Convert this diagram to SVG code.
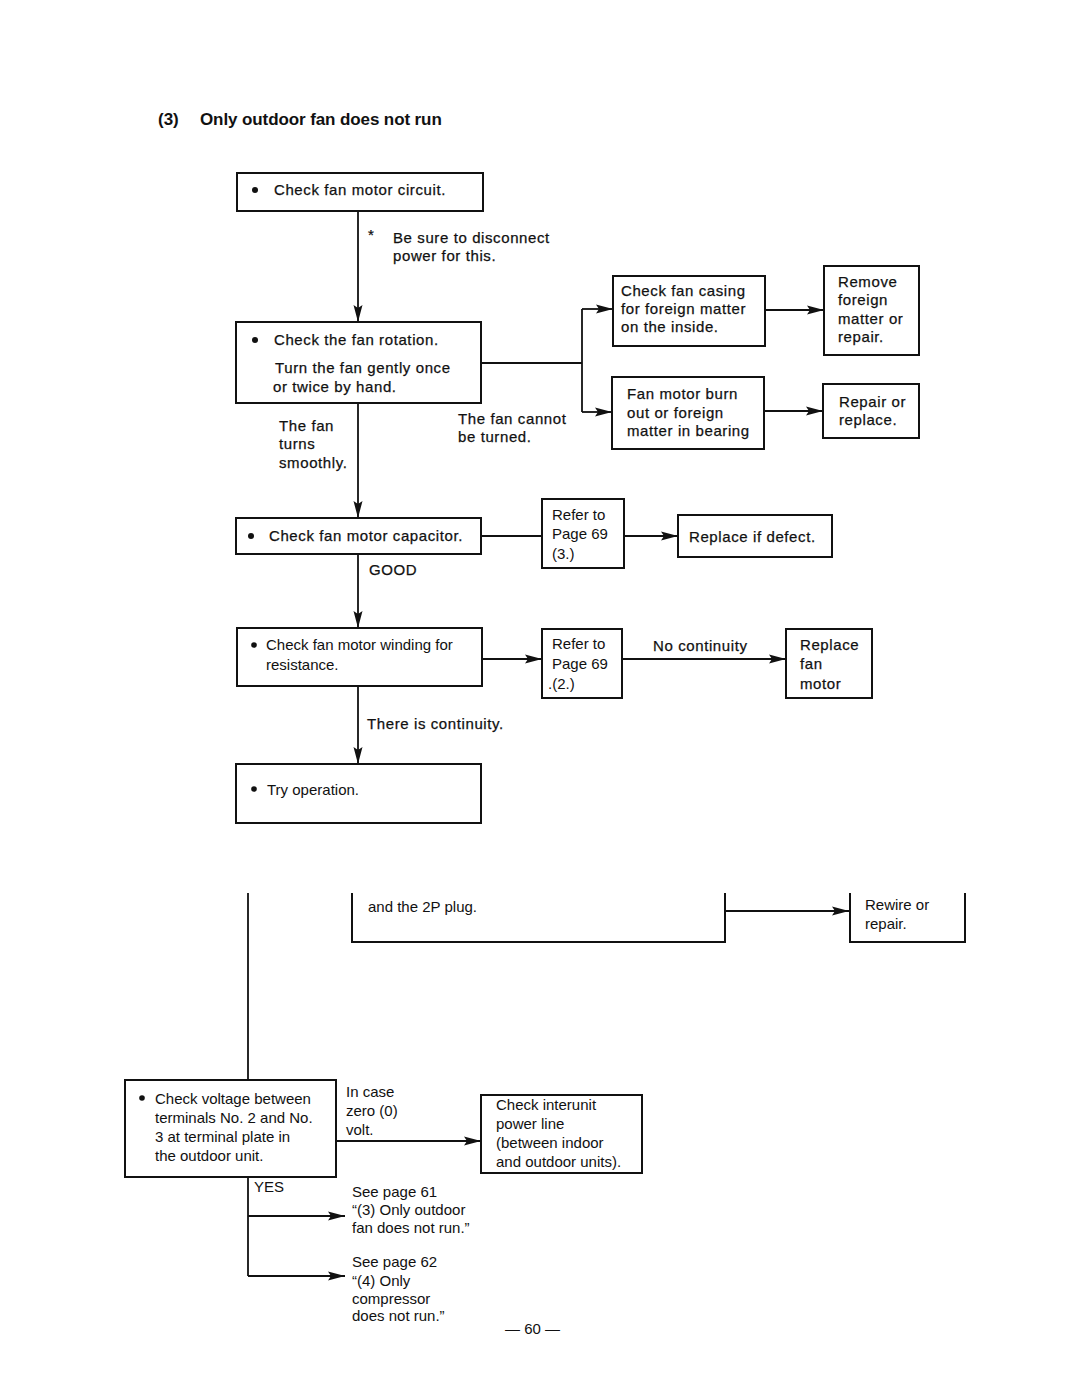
<svg xmlns="http://www.w3.org/2000/svg" width="1080" height="1397" viewBox="0 0 1080 1397">
<defs>
<marker id="arr" markerUnits="userSpaceOnUse" markerWidth="18" markerHeight="10" refX="17" refY="5" orient="auto">
<path d="M0,0.5 L17,5 L0,9.5 L3,5 Z" fill="#111"/>
</marker>
</defs>
<style>
.bx{fill:none;stroke:#111;stroke-width:2}
.ln{fill:none;stroke:#111;stroke-width:1.8}
.t{font-family:"Liberation Sans",Arial,sans-serif;font-size:15px;fill:#111;letter-spacing:0.6px;stroke:#111;stroke-width:0.25}
.b{font-weight:bold}
.s{font-family:"Liberation Sans",Arial,sans-serif;font-size:15px;fill:#111}
</style>
<rect width="1080" height="1397" fill="#fff"/>
<g id="title">
<text x="158" y="125" class="t b" style="font-size:17px;letter-spacing:0;stroke-width:0">(3)</text>
<text x="200" y="125" class="t b" style="font-size:17px;letter-spacing:-0.1px;stroke-width:0">Only outdoor fan does not run</text>
</g>

<g id="connectors">
<line class="ln" x1="358" y1="211" x2="358" y2="322" marker-end="url(#arr)"/>
<polyline class="ln" points="481,363 582,363"/>
<line class="ln" x1="582" y1="309" x2="582" y2="412"/>
<line class="ln" x1="582" y1="309" x2="613" y2="309" marker-end="url(#arr)"/>
<line class="ln" x1="582" y1="412" x2="612" y2="412" marker-end="url(#arr)"/>
<line class="ln" x1="765" y1="310" x2="824" y2="310" marker-end="url(#arr)"/>
<line class="ln" x1="764" y1="411" x2="823" y2="411" marker-end="url(#arr)"/>
<line class="ln" x1="358" y1="403" x2="358" y2="518" marker-end="url(#arr)"/>
<line class="ln" x1="481" y1="536" x2="542" y2="536"/>
<line class="ln" x1="624" y1="536" x2="678" y2="536" marker-end="url(#arr)"/>
<line class="ln" x1="358" y1="554" x2="358" y2="628" marker-end="url(#arr)"/>
<line class="ln" x1="482" y1="659" x2="542" y2="659" marker-end="url(#arr)"/>
<line class="ln" x1="622" y1="659" x2="786" y2="659" marker-end="url(#arr)"/>
<line class="ln" x1="358" y1="686" x2="358" y2="764" marker-end="url(#arr)"/>
<line class="ln" x1="248" y1="893" x2="248" y2="1080"/>
<line class="ln" x1="725" y1="911" x2="849" y2="911" marker-end="url(#arr)"/>
<line class="ln" x1="336" y1="1141" x2="481" y2="1141" marker-end="url(#arr)"/>
<line class="ln" x1="248" y1="1177" x2="248" y2="1276"/>
<line class="ln" x1="248" y1="1216" x2="345" y2="1216" marker-end="url(#arr)"/>
<line class="ln" x1="248" y1="1276" x2="345" y2="1276" marker-end="url(#arr)"/>
</g>

<g id="labels">
<text x="368" y="240" class="t">*</text>
<text x="393" y="243" class="t">Be sure to disconnect</text>
<text x="393" y="261" class="t">power for this.</text>
<text x="458" y="424" class="t">The fan cannot</text>
<text x="458" y="442" class="t">be turned.</text>
<text x="279" y="431" class="t">The fan</text>
<text x="279" y="449" class="t">turns</text>
<text x="279" y="468" class="t">smoothly.</text>
<text x="369" y="575" class="t">GOOD</text>
<text x="653" y="651" class="t">No continuity</text>
<text x="367" y="729" class="t">There is continuity.</text>
<text x="346" y="1097" class="s">In case</text>
<text x="346" y="1116" class="s">zero (0)</text>
<text x="346" y="1135" class="s">volt.</text>
<text x="254" y="1192" class="s">YES</text>
<text x="352" y="1197" class="s">See page 61</text>
<text x="352" y="1215" class="s">“(3) Only outdoor</text>
<text x="352" y="1233" class="s">fan does not run.”</text>
<text x="352" y="1267" class="s">See page 62</text>
<text x="352" y="1286" class="s">“(4) Only</text>
<text x="352" y="1304" class="s">compressor</text>
<text x="352" y="1321" class="s">does not run.”</text>
<text x="505" y="1334" class="s">— 60 —</text>
</g>

<g id="n1"><rect class="bx" x="237" y="173" width="246" height="38"/>
<circle cx="255" cy="190" r="3" fill="#111"/>
<text x="274" y="195" class="t">Check fan motor circuit.</text></g>

<g id="n2"><rect class="bx" x="236" y="322" width="245" height="81"/>
<circle cx="255" cy="340" r="3" fill="#111"/>
<text x="274" y="345" class="t">Check the fan rotation.</text>
<text x="275" y="373" class="t">Turn the fan gently once</text>
<text x="273" y="392" class="t">or twice by hand.</text></g>

<g id="n3"><rect class="bx" x="613" y="276" width="152" height="70"/>
<text x="621" y="296" class="t">Check fan casing</text>
<text x="621" y="314" class="t">for foreign matter</text>
<text x="621" y="332" class="t">on the inside.</text></g>

<g id="n4"><rect class="bx" x="824" y="266" width="95" height="89"/>
<text x="838" y="287" class="t">Remove</text>
<text x="838" y="305" class="t">foreign</text>
<text x="838" y="324" class="t">matter or</text>
<text x="838" y="342" class="t">repair.</text></g>

<g id="n5"><rect class="bx" x="612" y="377" width="152" height="72"/>
<text x="627" y="399" class="t">Fan motor burn</text>
<text x="627" y="418" class="t">out or foreign</text>
<text x="627" y="436" class="t">matter in bearing</text></g>

<g id="n6"><rect class="bx" x="823" y="384" width="96" height="54"/>
<text x="839" y="407" class="t">Repair or</text>
<text x="839" y="425" class="t">replace.</text></g>

<g id="n7"><rect class="bx" x="236" y="518" width="245" height="36"/>
<circle cx="251" cy="536" r="3" fill="#111"/>
<text x="269" y="541" class="t">Check fan motor capacitor.</text></g>

<g id="n8"><rect class="bx" x="542" y="499" width="82" height="69"/>
<text x="552" y="520" class="s">Refer to</text>
<text x="552" y="539" class="s">Page 69</text>
<text x="552" y="559" class="s">(3.)</text></g>

<g id="n9"><rect class="bx" x="678" y="515" width="154" height="42"/>
<text x="689" y="542" class="t">Replace if defect.</text></g>

<g id="n10"><rect class="bx" x="237" y="628" width="245" height="58"/>
<circle cx="254" cy="645" r="2.8" fill="#111"/>
<text x="266" y="650" class="s">Check fan motor winding for</text>
<text x="266" y="670" class="s">resistance.</text></g>

<g id="n11"><rect class="bx" x="542" y="629" width="80" height="69"/>
<text x="552" y="649" class="s">Refer to</text>
<text x="552" y="669" class="s">Page 69</text>
<text x="548" y="689" class="s">.(2.)</text></g>

<g id="n12"><rect class="bx" x="786" y="629" width="86" height="69"/>
<text x="800" y="650" class="t">Replace</text>
<text x="800" y="669" class="t">fan</text>
<text x="800" y="689" class="t">motor</text></g>

<g id="n13"><rect class="bx" x="236" y="764" width="245" height="59"/>
<circle cx="254" cy="789" r="2.8" fill="#111"/>
<text x="267" y="795" class="s">Try operation.</text></g>

<g id="n14"><polyline class="bx" points="352,893 352,942 725,942 725,893"/>
<text x="368" y="912" class="s">and the 2P plug.</text></g>

<g id="n15"><polyline class="bx" points="850,893 850,942 965,942 965,893"/>
<text x="865" y="910" class="s">Rewire or</text>
<text x="865" y="929" class="s">repair.</text></g>

<g id="n16"><rect class="bx" x="125" y="1080" width="211" height="97"/>
<circle cx="142" cy="1098" r="2.8" fill="#111"/>
<text x="155" y="1104" class="s">Check voltage between</text>
<text x="155" y="1123" class="s">terminals No. 2 and No.</text>
<text x="155" y="1142" class="s">3 at terminal plate in</text>
<text x="155" y="1161" class="s">the outdoor unit.</text></g>

<g id="n17"><rect class="bx" x="481" y="1095" width="161" height="78"/>
<text x="496" y="1110" class="s">Check interunit</text>
<text x="496" y="1129" class="s">power line</text>
<text x="496" y="1148" class="s">(between indoor</text>
<text x="496" y="1167" class="s">and outdoor units).</text></g>
</svg>
